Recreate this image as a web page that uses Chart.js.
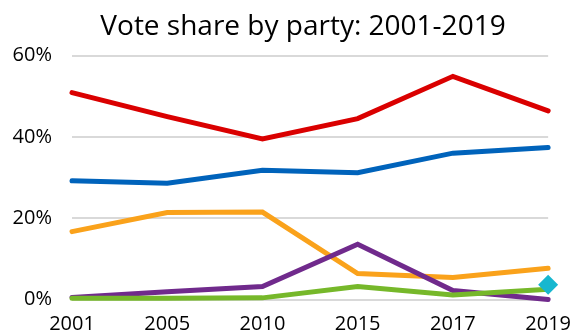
<!DOCTYPE html>
<html>
<head>
<meta charset="utf-8">
<script src="https://cdn.jsdelivr.net/npm/chart.js@4/dist/chart.umd.min.js"></script>
<style>
  html, body { margin: 0; padding: 0; background: #fff; }
  #wrap { width: 584px; height: 336px; }
</style>
</head>
<body>
<div id="wrap"><canvas id="voteChart" width="584" height="336"></canvas></div>
<script>
// Data
const years = ["2001", "2005", "2010", "2015", "2017", "2019"]
const redShare = [50.9, 45.0, 39.5, 44.5, 54.9, 46.4]
const blueShare = [29.2, 28.6, 31.8, 31.2, 36.0, 37.4]
const orangeShare = [16.7, 21.4, 21.5, 6.4, 5.4, 7.7]
const purpleShare = [0.5, 1.9, 3.2, 13.6, 2.2, 0.0]
const greenShare = [0.3, 0.3, 0.4, 3.2, 1.1, 2.5]
const cyanShare = [null, null, null, null, null, 3.6]
const yTicks = [0, 20, 40, 60]

const fontFamily = "'Open Sans', 'Noto Sans', sans-serif"

function lineSet(data, color) {
  return {
    data: data,
    borderColor: color,
    backgroundColor: color,
    borderWidth: 5,
    borderCapStyle: "round",
    borderJoinStyle: "miter",
    pointRadius: 0,
    tension: 0,
    fill: false,
    clip: false,
  }
}

// nudge the title box so its centre sits a bit right of the canvas centre
const titleShift = {
  id: "titleShift",
  afterLayout(chart) {
    if (chart.titleBlock) chart.titleBlock.left = 48
  },
}

const ctx = document.getElementById("voteChart").getContext("2d")

new Chart(ctx, {
  type: "line",
  data: {
    labels: years,
    datasets: [
      {
        data: cyanShare,
        showLine: false,
        pointStyle: "rectRot",
        pointRadius: 10,
        pointBorderWidth: 0,
        pointBackgroundColor: "#17b7cf",
        pointBorderColor: "#17b7cf",
        clip: false,
      },
      lineSet(redShare, "#da0000"),
      lineSet(blueShare, "#0063bb"),
      lineSet(greenShare, "#76b82a"),
      lineSet(purpleShare, "#702a8c"),
      lineSet(orangeShare, "#faa21b"),
    ],
  },
  plugins: [titleShift],
  options: {
    responsive: false,
    animation: false,
    layout: {
      padding: { top: 8, right: 26, bottom: 0, left: 10 },
    },
    plugins: {
      legend: { display: false },
      tooltip: { enabled: false },
      title: {
        display: true,
        text: "Vote share by party: 2001-2019",
        color: "#000",
        font: { family: fontFamily, size: 28, weight: "normal" },
        padding: { top: 2, bottom: 12 },
      },
    },
    scales: {
      x: {
        offset: false,
        grid: { display: false, drawTicks: false },
        border: { display: false },
        ticks: {
          color: "#000",
          padding: 13,
          maxRotation: 0,
          autoSkip: false,
          font: { family: fontFamily, size: 20 },
        },
        afterFit: (scale) => { scale.height = 36.5 },
      },
      y: {
        min: 0,
        max: 60,
        afterBuildTicks: (scale) => {
          scale.ticks = yTicks.map((v) => ({ value: v }))
        },
        grid: { color: "#d9d9d9", lineWidth: 2, drawTicks: false },
        border: { display: false },
        ticks: {
          color: "#000",
          padding: 20,
          font: { family: fontFamily, size: 20 },
          callback: (v) => v + "%",
        },
        afterFit: (scale) => { scale.width = 62 },
      },
    },
  },
})
</script>
</body>
</html>
